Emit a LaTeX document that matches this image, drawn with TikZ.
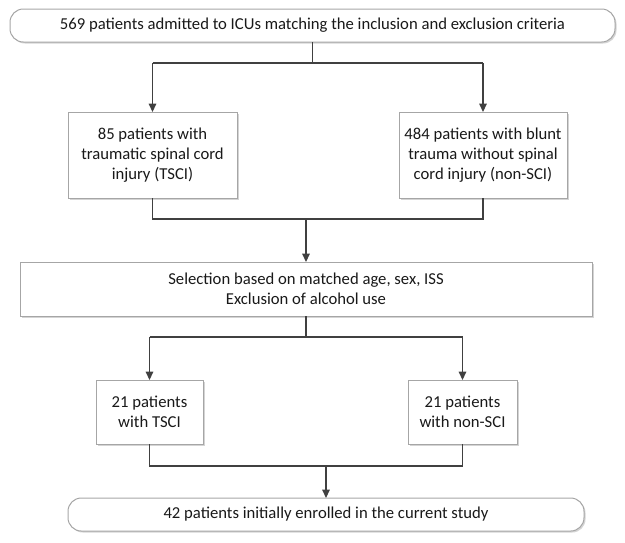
\documentclass[tikz,border=0pt]{standalone}
\usepackage{fontspec}
\setmainfont{Carlito}
\usetikzlibrary{positioning, calc, arrows.meta, shadows}
\definecolor{lineGray}{HTML}{404040}
\definecolor{boxGray}{HTML}{A6A6A6}
\definecolor{shadowGray}{HTML}{D4D4D4}
\tikzstyle{Box} = [
draw=boxGray, fill=white, line width=0.6pt,
inner sep=0pt, outer sep=0pt, align=center,
font=\fontsize{10}{12.2}\selectfont, text=black!90,
drop shadow={shadow xshift=0.9pt, shadow yshift=-0.9pt,
fill=shadowGray, opacity=1}]
\tikzstyle{Terminal} = [Box, rounded corners=8pt]
\tikzstyle{Line} = [draw=lineGray, line width=0.7pt]
\tikzstyle{Arrow} = [Line, -{Triangle[width=4.5pt,length=5pt]}]

\begin{document}
\begin{tikzpicture}[x=0.6pt, y=-0.6pt]
    \useasboundingbox (0,0) rectangle (625,542);

    \node [Terminal, minimum width=363pt, minimum height=19.8pt] (1) at (312.5,25.5)
        {569 patients admitted to ICUs matching the inclusion and exclusion criteria};
    \node [Box, minimum width=101.4pt, minimum height=51.6pt] (2) at (152.5,155)
        {85 patients with\\traumatic spinal cord\\injury (TSCI)};
    \node [Box, minimum width=100.8pt, minimum height=51.6pt] (3) at (483,155)
        {484 patients with blunt\\trauma without spinal\\cord injury (non-SCI)};
    \node [Box, minimum width=343.2pt, minimum height=32.4pt] (4) at (306,289)
        {Selection based on matched age, sex, ISS\\Exclusion of alcohol use};
    \node [Box, minimum width=64.2pt, minimum height=38.4pt] (5) at (149.5,412)
        {21 patients\\with TSCI};
    \node [Box, minimum width=65.4pt, minimum height=38.4pt] (6) at (462.5,412)
        {21 patients\\with non-SCI};
    \node [Terminal, minimum width=309.6pt, minimum height=19.8pt] (7) at (326,514.5)
        {42 patients initially enrolled in the current study};

    \coordinate (s1) at ($(1.south)+(0,21)$);
    \coordinate (s2) at ($(4.north)+(0,-43)$);
    \coordinate (s3) at ($(4.south)+(0,21)$);
    \coordinate (s4) at ($(7.north)+(0,-32)$);

    \draw[Line] (1) -- (s1);
    \draw[Line] (2.north |- s1) -- (3.north |- s1);
    \draw[Arrow] (2.north |- s1) -- (2);
    \draw[Arrow] (3.north |- s1) -- (3);

    \draw[Line] (2.south) -- (2.south |- s2) -- (3.south |- s2) -- (3.south);
    \draw[Arrow] (s2) -- (4);

    \draw[Line] (4) -- (s3);
    \draw[Line] (5.north |- s3) -- (6.north |- s3);
    \draw[Arrow] (5.north |- s3) -- (5);
    \draw[Arrow] (6.north |- s3) -- (6);

    \draw[Line] (5.south) -- (5.south |- s4) -- (6.south |- s4) -- (6.south);
    \draw[Arrow] (s4) -- (7);
\end{tikzpicture}
\end{document}
